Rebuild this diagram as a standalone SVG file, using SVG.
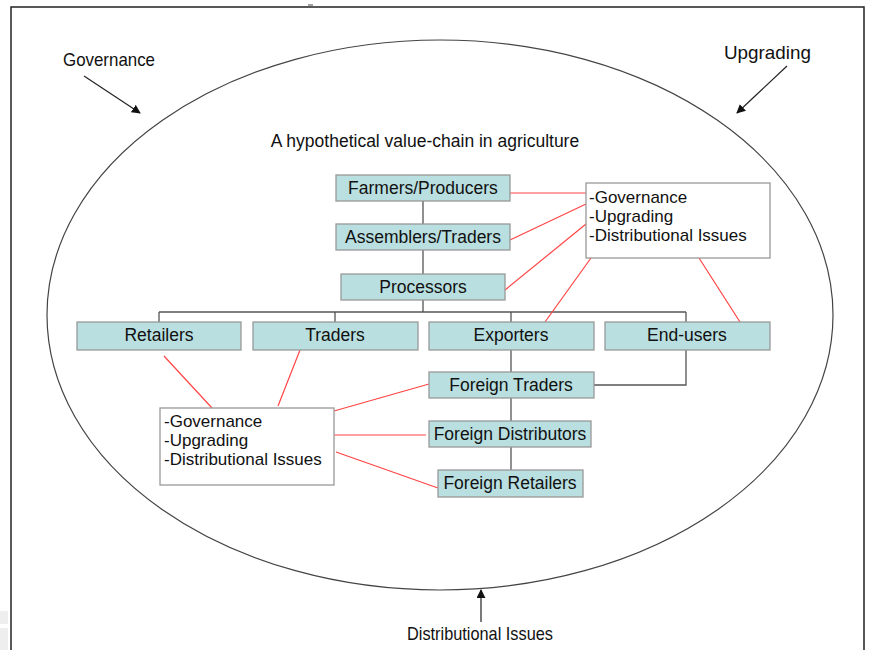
<svg xmlns="http://www.w3.org/2000/svg" width="869" height="650" viewBox="0 0 869 650">
<defs>
<style>
.box{fill:#b9dfe0;stroke:#999;stroke-width:1.3}
.wbox{fill:#fff;stroke:#999;stroke-width:1.3}
.t{font-family:"Liberation Sans",Arial,sans-serif;font-size:17.5px;fill:#111;text-anchor:middle}
.tl{font-family:"Liberation Sans",Arial,sans-serif;font-size:17px;fill:#111}
.lab{font-family:"Liberation Sans",Arial,sans-serif;font-size:19px;fill:#111}
.c{stroke:#555;stroke-width:1.3;fill:none}
.r{stroke:#f44;stroke-width:1.2;fill:none}
.a{stroke:#222;stroke-width:1.2;fill:none;marker-end:url(#ah)}
</style>
<marker id="ah" viewBox="0 0 10 10" refX="9" refY="5" markerWidth="9" markerHeight="9" markerUnits="userSpaceOnUse" orient="auto">
<path d="M0,0 L10,5 L0,10 z" fill="#111"/>
</marker>
</defs>
<rect width="869" height="650" fill="#fff"/>
<g id="frame">
<path d="M11,650 V7 H864 V650" fill="none" stroke="#222" stroke-width="1.5"/>
<rect x="0" y="611" width="8" height="13" fill="#eee"/>
<rect x="0" y="628" width="8" height="22" fill="#eee"/>
<line x1="308" y1="5" x2="313" y2="5" stroke="#444" stroke-width="1"/>
</g>
<g id="ellipse">
<ellipse cx="440" cy="315" rx="393" ry="275" fill="none" stroke="#444" stroke-width="1.2"/>
</g>
<g id="outer-labels">
<text class="lab" x="63" y="66" textLength="92" lengthAdjust="spacingAndGlyphs">Governance</text>
<text class="lab" x="724" y="59" textLength="87" lengthAdjust="spacingAndGlyphs">Upgrading</text>
<text class="lab" x="407" y="640" textLength="146" lengthAdjust="spacingAndGlyphs">Distributional Issues</text>
<line class="a" x1="84" y1="76" x2="140" y2="113"/>
<line class="a" x1="787" y1="66" x2="737" y2="113"/>
<line class="a" x1="481" y1="622" x2="481" y2="590"/>
</g>
<text class="t" x="425" y="147">A hypothetical value-chain in agriculture</text>
<g id="connectors">
<path class="c" d="M423,201 V224 M423,250 V274 M423,300 V312 M159,312 H686 M159,312 V322 M335,312 V322 M511,312 V322 M686,312 V322 M511,350 V372 M686,350 V385 H594 M511,398 V421 M511,447 V470"/>
<path class="r" d="M510,193 H586 M510,240 L586,204 M505,290 L586,224 M591,258 L545,322 M699,258 L740,322 M164,356 L212,408 M300,350 L278,406 M334,411 L429,384 M334,435 L426,435 M336,452 L438,488"/>
</g>
<g id="farmers"><rect class="box" x="336" y="175" width="174" height="26"/><text class="t" x="423" y="194">Farmers/Producers</text></g>
<g id="assemblers"><rect class="box" x="336" y="224" width="174" height="26"/><text class="t" x="423" y="243">Assemblers/Traders</text></g>
<g id="processors"><rect class="box" x="341" y="274" width="164" height="26"/><text class="t" x="423" y="293">Processors</text></g>
<g id="issues-top"><rect class="wbox" x="586" y="183" width="184" height="75"/>
<text class="tl" x="589" y="203">-Governance</text><text class="tl" x="589" y="222">-Upgrading</text><text class="tl" x="589" y="241">-Distributional Issues</text></g>
<g id="retailers"><rect class="box" x="77" y="322" width="164" height="28"/><text class="t" x="159" y="341">Retailers</text></g>
<g id="traders"><rect class="box" x="253" y="322" width="165" height="28"/><text class="t" x="335" y="341">Traders</text></g>
<g id="exporters"><rect class="box" x="429" y="322" width="165" height="28"/><text class="t" x="511" y="341">Exporters</text></g>
<g id="endusers"><rect class="box" x="605" y="322" width="165" height="28"/><text class="t" x="687" y="341">End-users</text></g>
<g id="foreign-traders"><rect class="box" x="429" y="372" width="165" height="26"/><text class="t" x="511" y="391">Foreign Traders</text></g>
<g id="foreign-distributors"><rect class="box" x="429" y="421" width="162" height="26"/><text class="t" x="510" y="440">Foreign Distributors</text></g>
<g id="foreign-retailers"><rect class="box" x="438" y="470" width="145" height="27"/><text class="t" x="510" y="489">Foreign Retailers</text></g>
<g id="issues-bottom"><rect class="wbox" x="160" y="408" width="174" height="77"/>
<text class="tl" x="164" y="427">-Governance</text><text class="tl" x="164" y="446">-Upgrading</text><text class="tl" x="164" y="465">-Distributional Issues</text></g>
</svg>
